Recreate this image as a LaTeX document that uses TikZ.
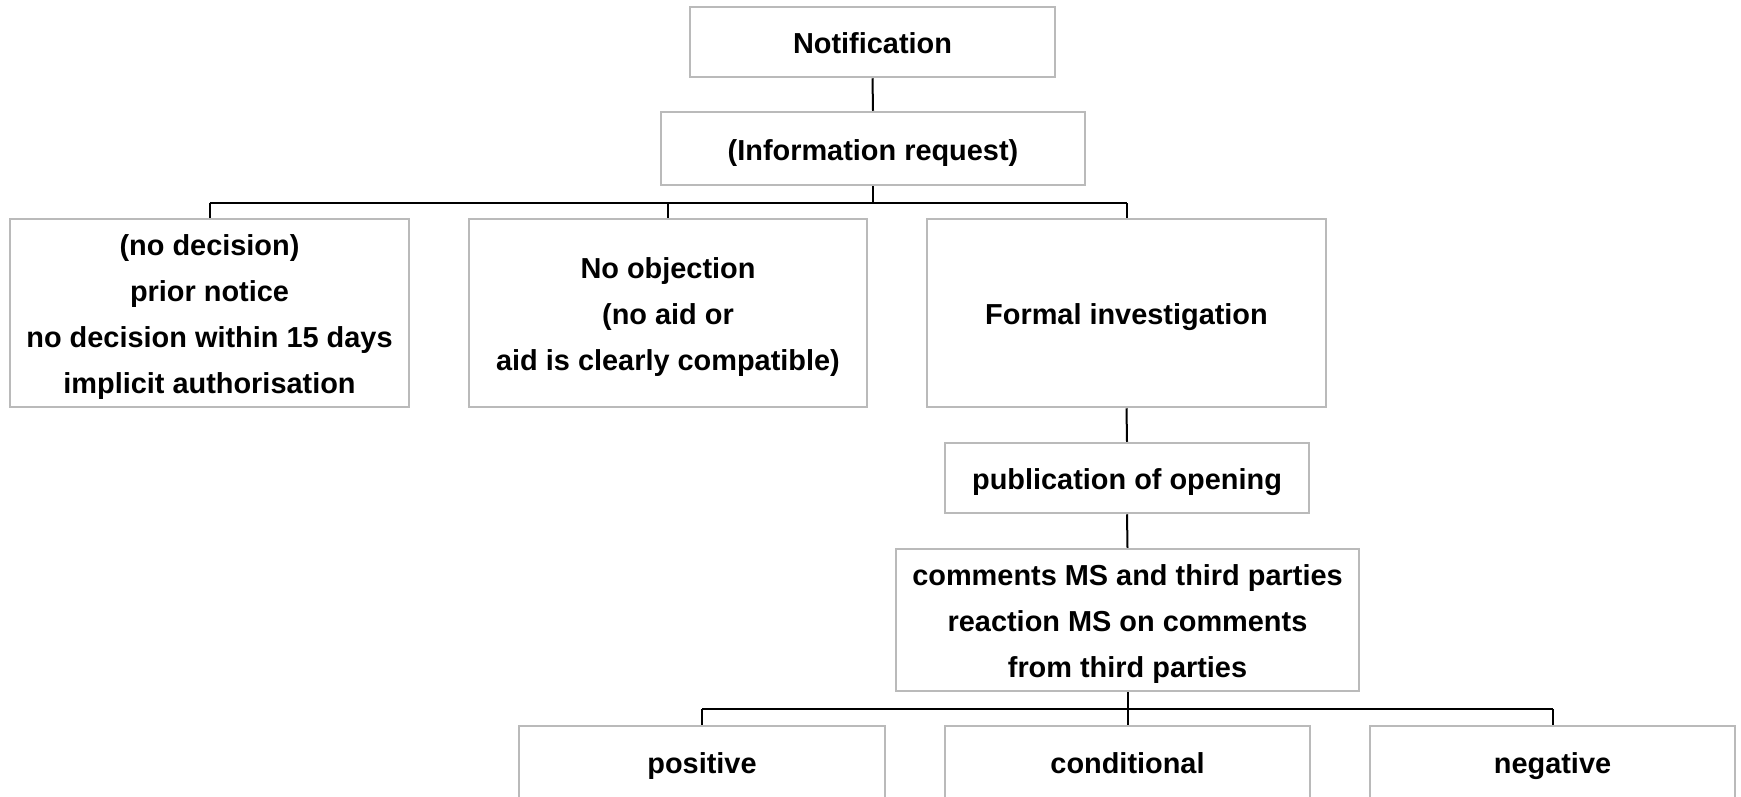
\documentclass[tikz,border=0pt]{standalone}
\usepackage{fontspec}
\setmainfont{Liberation Sans}
\newcommand\lstr{\rule[-0.22em]{0pt}{1.26em}}
\begin{document}
\begin{tikzpicture}[x=1pt,y=-1pt,
  box/.style={draw=black!27, line width=2.5pt, fill=white, inner sep=0pt, align=center,
    font=\bfseries\fontsize{28.9}{46}\selectfont},
  lab/.style={inner sep=0pt, anchor=base, font=\bfseries\fontsize{28.9}{46}\selectfont},
  conn/.style={draw=black, line width=2pt},
  bar/.style={draw=black, line width=2.6pt}]
\useasboundingbox (0,0) rectangle (1741,796);
\clip (0,0) rectangle (1741,796);
\fill[white] (0,0) rectangle (1741,796);
% boxes
\node[box, minimum width=365pt, minimum height=70pt] (notif) at (872.5,42) {\lstr Notification};
\node[box, minimum width=424pt, minimum height=73pt] (info) at (873,148.5) {\lstr (Information request)};
\node[box, minimum width=399pt, minimum height=188pt] (nodec) at (209.5,313) {\lstr(no decision)\\\lstr prior notice\\\lstr no decision within 15 days\\\lstr implicit authorisation};
\node[box, minimum width=398pt, minimum height=188pt] (noobj) at (668,313) {\lstr No objection\\\lstr (no aid or\\\lstr aid is clearly compatible)};
\node[box, minimum width=399pt, minimum height=188pt] (formal) at (1126.5,313) {\lstr Formal investigation};
\node[box, minimum width=364pt, minimum height=70pt] (pub) at (1127,478) {\lstr publication of opening};
\node[box, minimum width=463pt, minimum height=142pt] (comm) at (1127.5,620) {\lstr comments MS and third parties\\\lstr reaction MS on comments\\\lstr from third parties};
\node[box, minimum width=366pt, minimum height=78pt] (pos) at (702,765) {};
\node[box, minimum width=365pt, minimum height=78pt] (cond) at (1127.5,765) {};
\node[box, minimum width=365pt, minimum height=78pt] (neg) at (1552.5,765) {};
\node[lab] (postxt) at (702,773) {positive};
\node[lab] (condtxt) at (1127.5,773) {conditional};
\node[lab] (negtxt) at (1552.5,773) {negative};
% bar coordinates
\coordinate (b1) at (0,203);
\coordinate (b2) at (0,709);
% connectors
\draw[conn] (notif.south) -- (info.north);
\draw[conn] (info.south) -- (info.south |- b1);
\draw[bar] (nodec.north |- b1) -- (formal.north |- b1);
\draw[conn] (nodec.north) -- (nodec.north |- b1);
\draw[conn] (noobj.north) -- (noobj.north |- b1);
\draw[conn] (formal.north) -- (formal.north |- b1);
\draw[conn] (formal.south) -- (pub.north);
\draw[conn] (pub.south) -- (comm.north);
\draw[conn] (comm.south) -- (comm.south |- b2);
\draw[bar] (pos.north |- b2) -- (neg.north |- b2);
\draw[conn] (pos.north) -- (pos.north |- b2);
\draw[conn] (cond.north) -- (cond.north |- b2);
\draw[conn] (neg.north) -- (neg.north |- b2);
\end{tikzpicture}
\end{document}
